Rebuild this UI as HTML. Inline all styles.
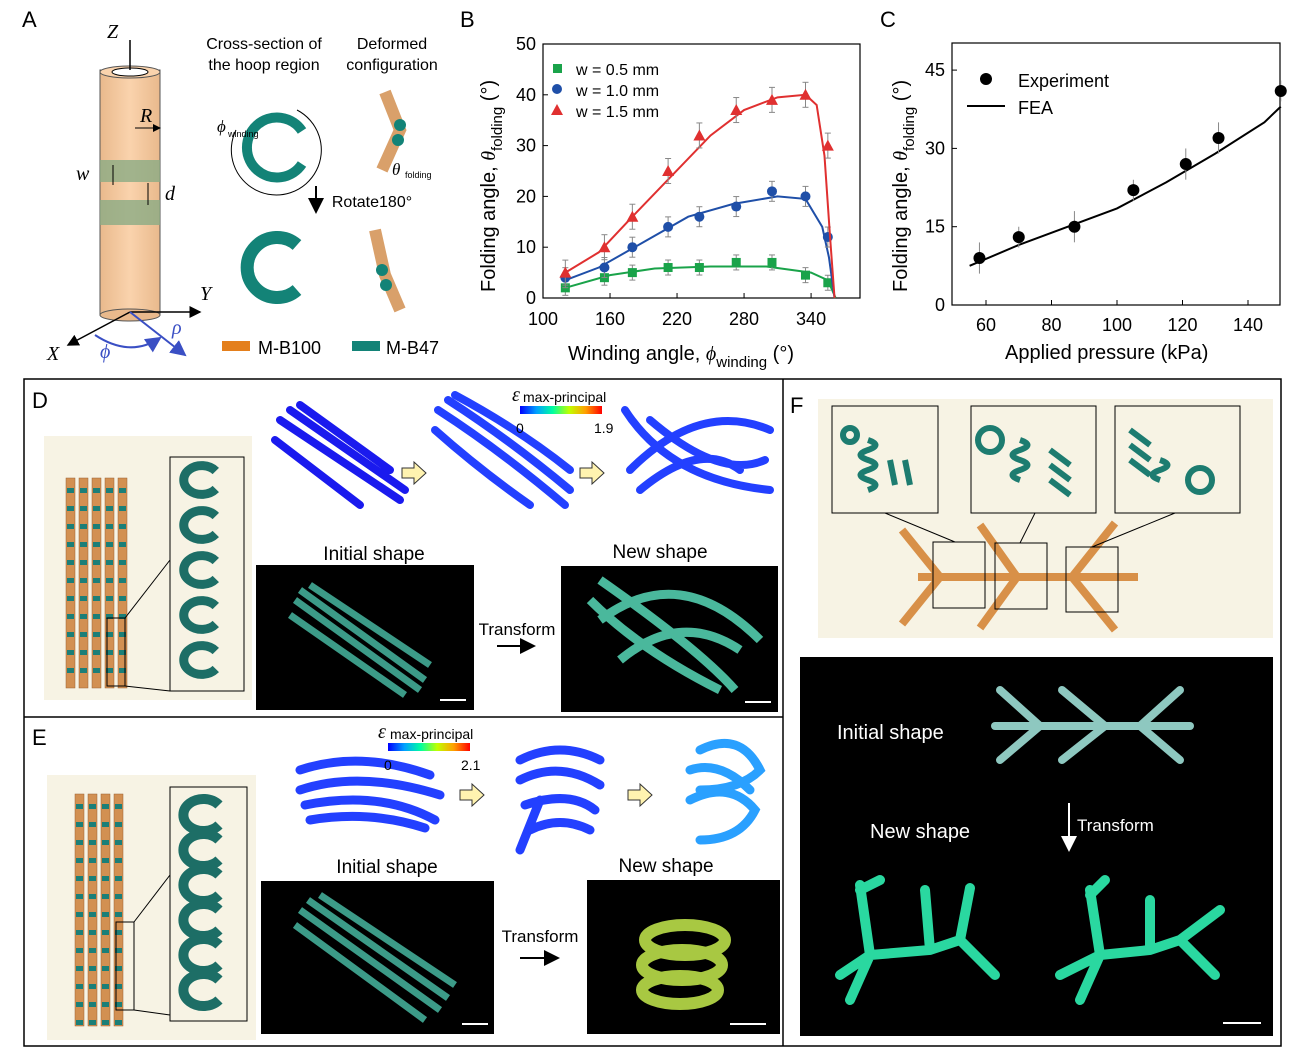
<!DOCTYPE html>
<html><head><meta charset="utf-8">
<style>
body{margin:0;background:#fff;}
svg{display:block;font-family:"Liberation Sans",Arial,sans-serif;}
</style></head>
<body>
<svg id="s" width="1295" height="1060" viewBox="0 0 1295 1060" xmlns="http://www.w3.org/2000/svg">
<defs>
<linearGradient id="cyl" x1="0" x2="1"><stop offset="0" stop-color="#e9b98c"/><stop offset="0.5" stop-color="#fad3ad"/><stop offset="1" stop-color="#e9b98c"/></linearGradient>
<linearGradient id="cb" x1="0" x2="1"><stop offset="0" stop-color="#0000ff"/><stop offset=".2" stop-color="#00a0ff"/><stop offset=".4" stop-color="#00ffa0"/><stop offset=".6" stop-color="#c0ff00"/><stop offset=".8" stop-color="#ffa000"/><stop offset="1" stop-color="#ff0000"/></linearGradient>
<marker id="ah" markerWidth="8" markerHeight="8" refX="7" refY="4" orient="auto"><path d="M0,0 L8,4 L0,8z" fill="#000"/></marker>
<marker id="ahw" markerWidth="8" markerHeight="8" refX="7" refY="4" orient="auto"><path d="M0,0 L8,4 L0,8z" fill="#fff"/></marker>
<marker id="ahb" markerWidth="8" markerHeight="8" refX="7" refY="4" orient="auto"><path d="M0,0 L8,4 L0,8z" fill="#3a4fc4"/></marker>
</defs>

<g font-size="22">
<text x="22" y="27">A</text><text x="460" y="27">B</text><text x="880" y="27">C</text>
<text x="32" y="408">D</text><text x="32" y="745">E</text><text x="790" y="413">F</text>
</g>

<!-- Panel A -->
<rect x="100" y="70" width="60" height="245" fill="url(#cyl)" stroke="#555"/>
<ellipse cx="130" cy="72" rx="30" ry="6" fill="#fad3ad" stroke="#555"/>
<ellipse cx="130" cy="72" rx="18" ry="4" fill="#fff" stroke="#000"/>
<ellipse cx="130" cy="315" rx="30" ry="6" fill="#e9b98c" stroke="#555"/>
<rect x="100" y="160" width="60" height="22" fill="#8bab84" opacity=".8"/>
<rect x="100" y="200" width="60" height="25" fill="#8bab84" opacity=".8"/>
<line x1="130" y1="40" x2="130" y2="70" stroke="#000" stroke-width="1.5"/>
<line x1="130" y1="312" x2="200" y2="312" stroke="#000" stroke-width="1.5" marker-end="url(#ah)"/>
<line x1="130" y1="312" x2="68" y2="345" stroke="#000" stroke-width="1.5" marker-end="url(#ah)"/>
<line x1="130" y1="312" x2="185" y2="355" stroke="#3a4fc4" stroke-width="2" marker-end="url(#ahb)"/>
<path d="M95,335 Q130,358 160,338" fill="none" stroke="#3a4fc4" stroke-width="2" marker-end="url(#ahb)"/>
<line x1="135" y1="128" x2="160" y2="128" stroke="#000" marker-end="url(#ah)"/>
<line x1="113" y1="165" x2="113" y2="185" stroke="#000"/>
<line x1="148" y1="183" x2="148" y2="205" stroke="#000"/>
<g font-family="Liberation Serif,serif" font-style="italic" font-size="20">
<text x="107" y="38">Z</text><text x="140" y="122">R</text><text x="76" y="180">w</text><text x="165" y="200">d</text>
<text x="200" y="300">Y</text><text x="47" y="360">X</text>
<text x="100" y="358" fill="#3a4fc4">ϕ</text><text x="172" y="334" fill="#3a4fc4">ρ</text>
</g>
<g font-size="16" text-anchor="middle">
<text x="264" y="49">Cross-section of</text><text x="264" y="70">the hoop region</text>
<text x="392" y="49">Deformed</text><text x="392" y="70">configuration</text>
<text x="372" y="207">Rotate180°</text>
</g>
<path d="M302,131 A30,30 0 1 0 302,164" fill="none" stroke="#138377" stroke-width="10"/>
<path d="M297,110 A45,45 0 1 1 236,130" fill="none" stroke="#000" stroke-width="1"/>
<text x="217" y="132" font-family="Liberation Serif,serif" font-style="italic" font-size="17">ϕ</text><text x="228" y="137" font-size="9">winding</text>
<path d="M297,245 A30,30 0 1 0 297,290" fill="none" stroke="#138377" stroke-width="13"/>
<line x1="316" y1="186" x2="316" y2="212" stroke="#000" stroke-width="2" marker-end="url(#ah)"/>
<path d="M385,92 L400,130 L382,170" fill="none" stroke="#d9a06a" stroke-width="12"/>
<circle cx="400" cy="125" r="6" fill="#138377"/><circle cx="398" cy="140" r="6" fill="#138377"/>
<text x="392" y="175" font-family="Liberation Serif,serif" font-style="italic" font-size="17">θ</text><text x="405" y="178" font-size="9">folding</text>
<path d="M375,230 L385,275 L400,310" fill="none" stroke="#d9a06a" stroke-width="12"/>
<circle cx="382" cy="270" r="6" fill="#138377"/><circle cx="386" cy="285" r="6" fill="#138377"/>
<rect x="222" y="341" width="28" height="10" fill="#e47f1c"/><text x="258" y="354" font-size="18">M-B100</text>
<rect x="352" y="341" width="28" height="10" fill="#138377"/><text x="386" y="354" font-size="18">M-B47</text>

<g id="plotB"></g>
<g id="plotC"></g>

<rect x="24" y="379" width="1257" height="667" fill="none" stroke="#000" stroke-width="1.5"/>
<line x1="783" y1="379" x2="783" y2="1046" stroke="#000" stroke-width="1.5"/>
<line x1="24" y1="717" x2="783" y2="717" stroke="#000" stroke-width="1.5"/>

<!-- D -->
<rect x="44" y="436" width="208" height="264" fill="#f7f3e4"/>
<g id="dstrips"></g>
<rect x="107" y="618" width="18" height="68" fill="none" stroke="#000"/>
<rect x="170" y="457" width="74" height="234" fill="none" stroke="#000"/>
<line x1="125" y1="618" x2="170" y2="560" stroke="#000"/><line x1="125" y1="686" x2="170" y2="691" stroke="#000"/>
<g id="dspir"></g>
<g stroke="#1a1aee" stroke-width="8" fill="none" stroke-linecap="round">
<path d="M280,420 L400,500 M290,410 L405,490 M275,440 L360,505 M300,405 L390,470"/>
<path d="M438,410 Q500,450 565,505 M448,400 Q510,440 570,490 M435,430 Q480,470 530,505 M455,395 Q520,430 570,470" stroke="#2340ff"/>
<path d="M625,410 Q670,480 770,490 M630,470 Q700,400 770,430 M640,490 Q700,440 740,470 M650,420 Q720,480 765,460" stroke="#2340ff"/>
</g>
<path d="M402,468 h12 v-6 l12,11 l-12,11 v-6 h-12z" fill="#fff3b0" stroke="#333"/>
<path d="M580,468 h12 v-6 l12,11 l-12,11 v-6 h-12z" fill="#fff3b0" stroke="#333"/>
<text x="512" y="401" font-family="Liberation Serif,serif" font-style="italic" font-size="20">ε</text><text x="523" y="402" font-size="14">max-principal</text>
<rect x="520" y="406" width="82" height="8" fill="url(#cb)"/>
<text x="516" y="433" font-size="14">0</text><text x="594" y="433" font-size="14">1.9</text>
<text x="374" y="560" font-size="19" text-anchor="middle">Initial shape</text>
<text x="660" y="558" font-size="19" text-anchor="middle">New shape</text>
<rect x="256" y="565" width="218" height="145" fill="#000"/>
<rect x="561" y="566" width="217" height="146" fill="#000"/>
<g stroke="#3c9b88" stroke-width="7" fill="none">
<path d="M295,600 L420,690 M300,590 L425,680 M290,615 L405,695 M310,585 L430,665"/>
<path d="M590,600 Q640,650 720,690 M600,620 Q680,560 760,640 M620,660 Q680,610 740,650 M600,580 Q700,650 735,690" stroke="#4ab89c" stroke-width="9"/>
</g>
<line x1="440" y1="700" x2="466" y2="700" stroke="#fff" stroke-width="2"/>
<line x1="745" y1="702" x2="771" y2="702" stroke="#fff" stroke-width="2"/>
<text x="517" y="635" font-size="17" text-anchor="middle">Transform</text>
<line x1="497" y1="646" x2="534" y2="646" stroke="#000" stroke-width="2" marker-end="url(#ah)"/>

<!-- E -->
<rect x="47" y="775" width="209" height="265" fill="#f7f3e4"/>
<g id="estrips"></g>
<rect x="116" y="922" width="18" height="88" fill="none" stroke="#000"/>
<rect x="170" y="787" width="77" height="234" fill="none" stroke="#000"/>
<line x1="134" y1="922" x2="170" y2="875" stroke="#000"/><line x1="134" y1="1010" x2="170" y2="1015" stroke="#000"/>
<g id="espir"></g>
<g stroke="#2340ff" stroke-width="9" fill="none" stroke-linecap="round">
<path d="M300,770 Q360,750 430,775 M300,790 Q360,770 440,795 M305,805 Q380,790 435,820 M310,820 Q370,810 425,828"/>
<path d="M520,760 Q560,740 600,760 M520,780 Q560,760 600,785 M525,805 Q570,790 595,810 M530,830 Q560,815 590,830 M540,800 L520,850"/>
<path d="M700,750 Q740,730 760,770 Q740,790 700,790 M690,800 Q730,780 755,810 Q740,840 700,840 M690,770 Q720,760 750,790" stroke="#2aa0ff"/>
</g>
<path d="M628,790 h12 v-6 l12,11 l-12,11 v-6 h-12z" fill="#fff3b0" stroke="#333"/>
<path d="M460,790 h12 v-6 l12,11 l-12,11 v-6 h-12z" fill="#fff3b0" stroke="#333"/>
<text x="378" y="738" font-family="Liberation Serif,serif" font-style="italic" font-size="20">ε</text><text x="390" y="739" font-size="14">max-principal</text>
<rect x="388" y="743" width="82" height="8" fill="url(#cb)"/>
<text x="384" y="770" font-size="14">0</text><text x="461" y="770" font-size="14">2.1</text>
<text x="387" y="873" font-size="19" text-anchor="middle">Initial shape</text>
<text x="666" y="872" font-size="19" text-anchor="middle">New shape</text>
<rect x="261" y="881" width="233" height="153" fill="#000"/>
<rect x="587" y="880" width="193" height="154" fill="#000"/>
<g stroke="#3c9b88" stroke-width="7" fill="none">
<path d="M300,910 L440,1010 M308,900 L448,998 M295,925 L425,1020 M320,895 L455,985"/>
</g>
<g stroke="#a8c842" stroke-width="12" fill="none">
<ellipse cx="685" cy="940" rx="40" ry="15"/><ellipse cx="682" cy="965" rx="40" ry="15"/><ellipse cx="680" cy="990" rx="38" ry="14"/>
</g>
<line x1="462" y1="1024" x2="488" y2="1024" stroke="#fff" stroke-width="2"/>
<line x1="730" y1="1024" x2="766" y2="1024" stroke="#fff" stroke-width="2"/>
<text x="540" y="942" font-size="17" text-anchor="middle">Transform</text>
<line x1="520" y1="958" x2="558" y2="958" stroke="#000" stroke-width="2" marker-end="url(#ah)"/>

<!-- F -->
<rect x="818" y="399" width="455" height="239" fill="#f7f3e4"/>
<rect x="832" y="406" width="106" height="107" fill="none" stroke="#000"/>
<rect x="971" y="406" width="125" height="107" fill="none" stroke="#000"/>
<rect x="1115" y="406" width="125" height="107" fill="none" stroke="#000"/>
<g stroke="#d89048" stroke-width="8" fill="none">
<line x1="918" y1="577" x2="1138" y2="577"/>
<line x1="940" y1="577" x2="902" y2="530" /><line x1="940" y1="577" x2="902" y2="624"/>
<line x1="1017" y1="577" x2="980" y2="525"/><line x1="1017" y1="577" x2="980" y2="628"/>
<line x1="1072" y1="577" x2="1115" y2="523"/><line x1="1072" y1="577" x2="1115" y2="630"/>
</g>
<rect x="933" y="542" width="52" height="66" fill="none" stroke="#000"/>
<rect x="995" y="543" width="52" height="66" fill="none" stroke="#000"/>
<rect x="1066" y="547" width="52" height="65" fill="none" stroke="#000"/>
<line x1="885" y1="513" x2="955" y2="542" stroke="#000"/><line x1="1035" y1="513" x2="1020" y2="543" stroke="#000"/><line x1="1175" y1="513" x2="1092" y2="547" stroke="#000"/>
<g fill="none" stroke="#1d7c70" stroke-width="6">
<path d="M868,440 q15,5 0,10 q-15,5 0,10 q15,5 0,10 q-15,5 0,10 q15,5 0,10"/>
<path d="M1020,440 q15,5 0,10 q-15,5 0,10 q15,5 0,10 q-15,5 0,10"/><path d="M1160,460 q15,5 0,10 q-15,5 0,10"/>
<path d="M1050,450 l20,15 M1050,465 l20,15 M1050,480 l20,15 M1130,430 l20,15 M1130,445 l20,15 M1130,460 l20,15 M890,460 l5,25 M905,460 l5,25"/>
<circle cx="990" cy="440" r="12"/><circle cx="1200" cy="480" r="12"/><circle cx="850" cy="435" r="7"/>
</g>
<rect x="800" y="657" width="473" height="379" fill="#000"/>
<g stroke="#8ec8c0" stroke-width="8" fill="none" stroke-linecap="round">
<line x1="995" y1="726" x2="1190" y2="726"/>
<line x1="1040" y1="726" x2="1000" y2="690"/><line x1="1040" y1="726" x2="1000" y2="760"/>
<line x1="1105" y1="726" x2="1062" y2="690"/><line x1="1105" y1="726" x2="1062" y2="760"/>
<line x1="1140" y1="726" x2="1180" y2="690"/><line x1="1140" y1="726" x2="1180" y2="760"/>
</g>
<g stroke="#2ad8a0" stroke-width="10" fill="none" stroke-linecap="round">
<path d="M840,975 L870,955 L930,950 L960,940 L995,975 M870,955 L860,885 M860,890 L880,880 M930,950 L925,890 M960,940 L970,888 M870,955 L850,1000"/>
<path d="M1060,975 L1100,955 L1150,950 L1180,940 L1215,975 M1100,955 L1090,890 M1090,895 L1105,880 M1150,950 L1150,900 M1180,940 L1220,910 M1100,955 L1080,1000"/>
</g>
<g fill="#fff" font-size="20">
<text x="837" y="739">Initial shape</text><text x="870" y="838">New shape</text>
</g>
<text x="1077" y="831" fill="#fff" font-size="17">Transform</text>
<line x1="1069" y1="803" x2="1069" y2="850" stroke="#fff" stroke-width="2" marker-end="url(#ahw)"/>
<line x1="1223" y1="1023" x2="1261" y2="1023" stroke="#fff" stroke-width="2"/>
</svg>
<script>
var NS="http://www.w3.org/2000/svg";
function el(p,t,a,txt){var e=document.createElementNS(NS,t);for(var k in a)e.setAttribute(k,a[k]);if(txt!=null)e.textContent=txt;p.appendChild(e);return e;}
function ylab(p,x,y){var t=el(p,"text",{transform:"translate("+x+","+y+") rotate(-90)","font-size":20});
 el(t,"tspan",{},"Folding angle, ");el(t,"tspan",{"font-family":"Liberation Serif,serif","font-style":"italic"},"θ");
 el(t,"tspan",{"font-size":15,dy:7},"folding");el(t,"tspan",{dy:-7}," (°)");}
var B=document.getElementById("plotB");
function bx(x){return 543+(x-100)*1.117;} function by(v){return 298-v*5.08;}
el(B,"rect",{x:543,y:44,width:317,height:254,fill:"none",stroke:"#000","stroke-width":1.2});
[100,160,220,280,340].forEach(function(v){el(B,"text",{x:bx(v),y:325,"font-size":18,"text-anchor":"middle"},v);el(B,"line",{x1:bx(v),x2:bx(v),y1:298,y2:293,stroke:"#000"});});
[0,10,20,30,40,50].forEach(function(v){el(B,"text",{x:536,y:by(v)+6,"font-size":18,"text-anchor":"end"},v);el(B,"line",{x1:543,x2:548,y1:by(v),y2:by(v),stroke:"#000"});});
var xl=el(B,"text",{x:568,y:360,"font-size":20});
el(xl,"tspan",{},"Winding angle, ");el(xl,"tspan",{"font-family":"Liberation Serif,serif","font-style":"italic"},"ϕ");
el(xl,"tspan",{"font-size":15,dy:7},"winding");el(xl,"tspan",{dy:-7}," (°)");
ylab(B,495,292);
var xs=[120,155,180,212,240,273,305,335,355];
var S=[{c:"#1aa34a",d:[2,4,5,6,6,7,7,4.5,3],m:"s",e:1.5,cv:[[120,2],[160,4.5],[200,5.8],[250,6.2],[300,6.2],[340,5],[355,3.5],[362,0]]},
{c:"#1f4fa8",d:[4,6,10,14,16,18,21,20,12],m:"c",e:2,cv:[[120,3.5],[150,6],[190,11],[230,16],[270,18.5],[310,20],[335,19.5],[350,14],[356,8],[361,0]]},
{c:"#e03030",d:[5,10,16,25,32,37,39,40,30],m:"t",e:2.5,cv:[[120,5],[150,9],[180,16],[215,24],[250,32],[280,37],[310,39.5],[335,40],[345,38],[352,28],[357,12],[361,0]]}];
S.forEach(function(s){
 var p=s.cv.map(function(q){return bx(q[0])+","+by(q[1]);}).join(" ");
 el(B,"polyline",{points:p,fill:"none",stroke:s.c,"stroke-width":2});
 xs.forEach(function(x,i){var X=bx(x),Y=by(s.d[i]);
  el(B,"line",{x1:X,x2:X,y1:Y-s.e*5,y2:Y+s.e*5,stroke:"#888"});
  el(B,"line",{x1:X-3,x2:X+3,y1:Y-s.e*5,y2:Y-s.e*5,stroke:"#888"});
  el(B,"line",{x1:X-3,x2:X+3,y1:Y+s.e*5,y2:Y+s.e*5,stroke:"#888"});
  if(s.m=="s")el(B,"rect",{x:X-4.5,y:Y-4.5,width:9,height:9,fill:s.c});
  else if(s.m=="c")el(B,"circle",{cx:X,cy:Y,r:5,fill:s.c});
  else el(B,"polygon",{points:(X)+","+(Y-6)+" "+(X-6)+","+(Y+5)+" "+(X+6)+","+(Y+5),fill:s.c});
 });
});
el(B,"rect",{x:553,y:64,width:9,height:9,fill:"#1aa34a"});el(B,"text",{x:576,y:75,"font-size":16},"w = 0.5 mm");
el(B,"circle",{cx:557,cy:89,r:5,fill:"#1f4fa8"});el(B,"text",{x:576,y:96,"font-size":16},"w = 1.0 mm");
el(B,"polygon",{points:"557,104 551,115 563,115",fill:"#e03030"});el(B,"text",{x:576,y:117,"font-size":16},"w = 1.5 mm");
var C=document.getElementById("plotC");
function cx(x){return 986+(x-60)*3.275;} function cy(v){return 305-v*5.22;}
el(C,"rect",{x:952,y:43,width:328,height:262,fill:"none",stroke:"#000","stroke-width":1.2});
[60,80,100,120,140].forEach(function(v){el(C,"text",{x:cx(v),y:331,"font-size":18,"text-anchor":"middle"},v);el(C,"line",{x1:cx(v),x2:cx(v),y1:305,y2:300,stroke:"#000"});});
[0,15,30,45].forEach(function(v){el(C,"text",{x:945,y:cy(v)+6,"font-size":18,"text-anchor":"end"},v);el(C,"line",{x1:952,x2:957,y1:cy(v),y2:cy(v),stroke:"#000"});});
el(C,"text",{x:1005,y:359,"font-size":20},"Applied pressure (kPa)");
ylab(C,907,292);
el(C,"polyline",{points:[[55,7.5],[70,11.5],[85,15],[100,18.5],[115,23.5],[130,29],[145,35],[150,38]].map(function(q){return cx(q[0])+","+cy(q[1]);}).join(" "),fill:"none",stroke:"#000","stroke-width":2});
[[58,9,3],[70,13,2],[87,15,3],[105,22,2],[121,27,3],[131,32,3],[150,41,2]].forEach(function(q){var X=cx(q[0]),Y=cy(q[1]);
 el(C,"line",{x1:X,x2:X,y1:Y-q[2]*5.2,y2:Y+q[2]*5.2,stroke:"#888"});
 el(C,"circle",{cx:X,cy:Y,r:6,fill:"#000"});});
el(C,"circle",{cx:986,cy:79,r:6,fill:"#000"});el(C,"text",{x:1018,y:87,"font-size":18},"Experiment");
el(C,"line",{x1:967,x2:1005,y1:106,y2:106,stroke:"#000","stroke-width":2});el(C,"text",{x:1018,y:114,"font-size":18},"FEA");
function strips(g,x0,y0,h,n){for(var i=0;i<n;i++){var x=x0+i*13;el(g,"rect",{x:x,y:y0,width:9,height:h,fill:"#d29052",stroke:"#9a6030","stroke-width":.5});
 for(var y=y0+10;y<y0+h-5;y+=18)el(g,"rect",{x:x+1,y:y,width:7,height:5,fill:"#1b7f78"});}}
strips(document.getElementById("dstrips"),66,478,210,5);
strips(document.getElementById("estrips"),75,794,232,4);
function spir(g,cx,y0,n,dy,r,w){for(var i=0;i<n;i++){var y=y0+i*dy;el(g,"path",{d:"M"+(cx+r*0.6)+","+(y-r*0.5)+" A"+r+","+r*0.8+" 0 1 0 "+(cx+r*0.6)+","+(y+r*0.5),fill:"none",stroke:"#1d6e66","stroke-width":w});}}
spir(document.getElementById("dspir"),205,480,5,45,18,9);
spir(document.getElementById("espir"),207,815,6,35,20,10);
</script>
</body></html>
